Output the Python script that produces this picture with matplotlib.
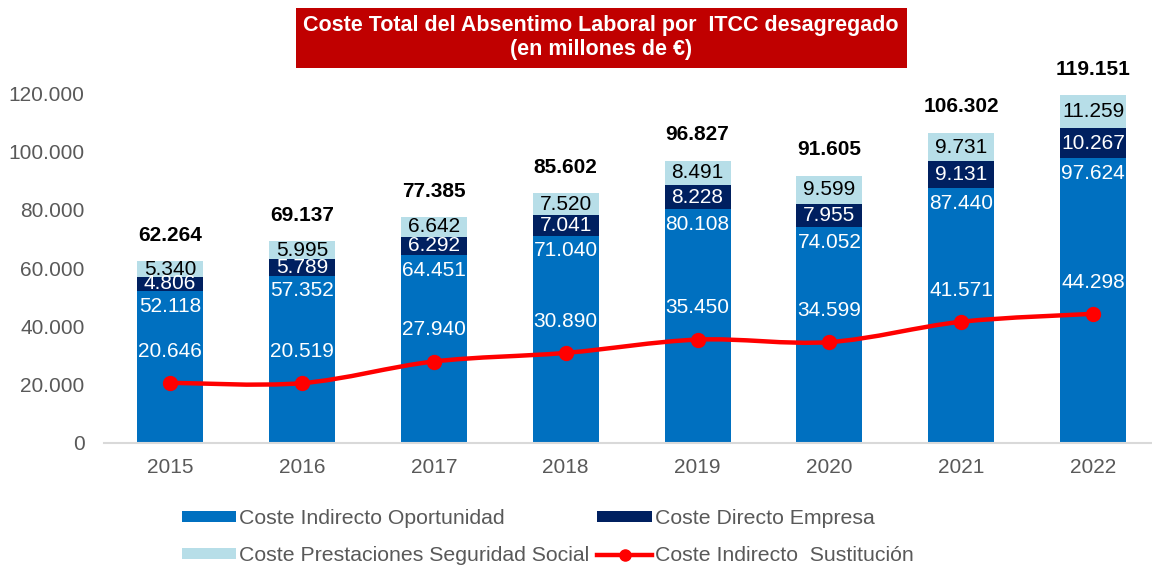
import numpy as np
import matplotlib
matplotlib.use("Agg")
import matplotlib.pyplot as plt
from matplotlib.patches import Rectangle
from matplotlib.path import Path
from matplotlib.patches import PathPatch
from matplotlib.lines import Line2D

plt.rcParams['font.family'] = ['Liberation Sans', 'DejaVu Sans']

years = ['2015', '2016', '2017', '2018', '2019', '2020', '2021', '2022']
indirecto_oportunidad = [52118, 57352, 64451, 71040, 80108, 74052, 87440, 97624]
directo_empresa = [4806, 5789, 6292, 7041, 8228, 7955, 9131, 10267]
prestaciones_ss = [5340, 5995, 6642, 7520, 8491, 9599, 9731, 11259]
indirecto_sustitucion = [20646, 20519, 27940, 30890, 35450, 34599, 41571, 44298]
totales = [62264, 69137, 77385, 85602, 96827, 91605, 106302, 119151]
yticks = [0, 20000, 40000, 60000, 80000, 100000, 120000]

c_blue = '#0070C0'
c_navy = '#002060'
c_light = '#B7DEE8'
c_red = '#FF0000'
c_gray = '#595959'

def fmt(v):
    return f"{v:,.0f}".replace(',', '.')

W, H = 1152, 568
fig = plt.figure(figsize=(W / 100, H / 100), dpi=100)
ax = fig.add_axes([104 / W, 1 - 443 / H, (W - 104) / W, 350 / H])

x = np.arange(len(years))
bw = 0.5
io = np.array(indirecto_oportunidad)
de = np.array(directo_empresa)
ps = np.array(prestaciones_ss)
b1 = ax.bar(x, io, bw, color=c_blue, label='Coste Indirecto Oportunidad', zorder=2)
b2 = ax.bar(x, de, bw, bottom=io, color=c_navy, label='Coste Directo Empresa', zorder=2)
b3 = ax.bar(x, ps, bw, bottom=io + de, color=c_light, label='Coste Prestaciones Seguridad Social', zorder=2)

# smooth line (Excel-like smoothing) through data points
xs = x.astype(float)
ys = np.array(indirecto_sustitucion, dtype=float)
verts = [(xs[0], ys[0])]
codes = [Path.MOVETO]
n = len(xs)
for i in range(n - 1):
    p0 = np.array([xs[max(i - 1, 0)], ys[max(i - 1, 0)]])
    p1 = np.array([xs[i], ys[i]])
    p2 = np.array([xs[i + 1], ys[i + 1]])
    p3 = np.array([xs[min(i + 2, n - 1)], ys[min(i + 2, n - 1)]])
    c1 = p1 + (p2 - p0) / 6
    c2 = p2 - (p3 - p1) / 6
    verts += [tuple(c1), tuple(c2), tuple(p2)]
    codes += [Path.CURVE4] * 3
ax.add_patch(PathPatch(Path(verts, codes), fill=False, edgecolor=c_red, lw=3.2,
                       capstyle='round', zorder=3))
ax.plot(xs, ys, linestyle='none', marker='o', ms=10, color=c_red, zorder=4)

fs = 15
for i in range(n):
    ax.annotate(fmt(io[i]), (x[i], io[i]), xytext=(0, -4), textcoords='offset points',
                ha='center', va='top', color='white', fontsize=fs, zorder=5)
    ax.annotate(fmt(de[i]), (x[i], io[i] + de[i] / 2), xytext=(0, 0), textcoords='offset points',
                ha='center', va='center', color='white', fontsize=fs, zorder=5)
    ax.annotate(fmt(ps[i]), (x[i], io[i] + de[i] + ps[i] / 2), xytext=(0, 0), textcoords='offset points',
                ha='center', va='center', color='black', fontsize=fs, zorder=5)
    ax.annotate(fmt(ys[i]), (x[i], ys[i]), xytext=(0, 16), textcoords='offset points',
                ha='center', va='bottom', color='white', fontsize=fs, zorder=5)
    ax.annotate(fmt(totales[i]), (x[i], io[i] + de[i] + ps[i]), xytext=(0, 12),
                textcoords='offset points', ha='center', va='bottom', color='black',
                fontsize=fs, fontweight='bold', zorder=5, annotation_clip=False)

ax.set_xlim(-0.5, -0.5 + (W - 104) / 131.9)
ax.set_ylim(0, 120000)
ax.set_xticks(x)
ax.set_xticklabels(years)
ax.set_yticks(yticks)
ax.set_yticklabels([fmt(v) for v in yticks])
ax.tick_params(axis='both', length=0, labelsize=fs, labelcolor=c_gray)
ax.tick_params(axis='y', pad=14)
ax.tick_params(axis='x', pad=11)
for s in ['top', 'right', 'left']:
    ax.spines[s].set_visible(False)
ax.spines['bottom'].set_color('#D9D9D9')
ax.spines['bottom'].set_linewidth(1.5)

line_handle = Line2D([], [], color=c_red, lw=3.2, marker='o', ms=8)
handles = [b1, b3, b2, line_handle]
labels = ['Coste Indirecto Oportunidad', 'Coste Prestaciones Seguridad Social',
          'Coste Directo Empresa', 'Coste Indirecto  Sustitución']
fig.legend(handles, labels, ncol=2, loc='upper left', bbox_to_anchor=(182 / W, 1 - 509 / H),
           frameon=False, fontsize=15.3, labelcolor=c_gray, handlelength=2.55, handleheight=0.4,
           handletextpad=0.15, columnspacing=0.37, labelspacing=0.85, borderpad=0, borderaxespad=0)

# title box
fig.patches.append(Rectangle((296 / W, 1 - 68 / H), (907 - 296) / W, 60 / H,
                             transform=fig.transFigure, facecolor='#C00000', edgecolor='none'))
fig.text(601 / W, 1 - 25 / H, 'Coste Total del Absentimo Laboral por  ITCC desagregado',
         ha='center', va='center', color='white', fontsize=15.5, fontweight='bold')
fig.text(601 / W, 1 - 49 / H, '(en millones de €)',
         ha='center', va='center', color='white', fontsize=15.5, fontweight='bold')

fig.savefig('out.png', dpi=100)
